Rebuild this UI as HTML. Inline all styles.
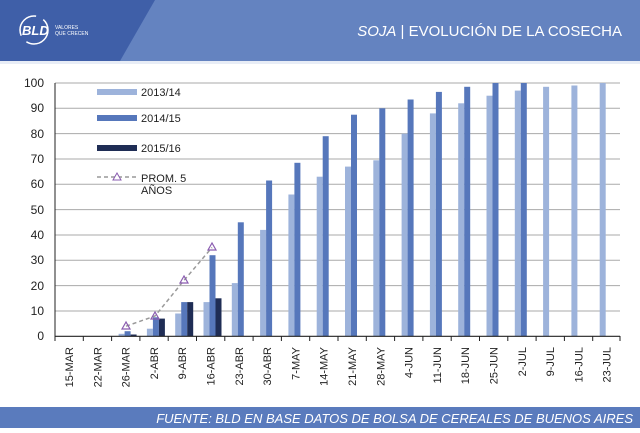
<!DOCTYPE html>
<html><head><meta charset="utf-8"><style>
body{margin:0;width:640px;height:428px;overflow:hidden;background:#fff;font-family:"Liberation Sans",sans-serif}
</style></head><body>
<svg width="640" height="428" xmlns="http://www.w3.org/2000/svg" font-family="Liberation Sans, sans-serif">
<rect x="0" y="0" width="640" height="61" fill="#6483c0"/>
<polygon points="0,0 155,0 120,61 0,61" fill="#3f5fa8"/>
<rect x="0" y="61" width="640" height="3" fill="#e8edf6"/>
<circle cx="34" cy="30" r="14" fill="none" stroke="#fff" stroke-width="1.5" stroke-dasharray="30 8"/>
<text x="22" y="35" font-size="13" font-weight="bold" font-style="italic" fill="#fff">BLD</text>
<text x="55" y="29" font-size="5" fill="#fff">VALORES</text>
<text x="55" y="35" font-size="5" fill="#fff">QUE CRECEN</text>
<text x="622" y="36" font-size="15" fill="#fff" text-anchor="end"><tspan font-style="italic">SOJA</tspan> | EVOLUCIÓN DE LA COSECHA</text>
<g stroke="#aaa" stroke-width="1">
<line x1="55" x2="620" y1="83" y2="83"/><line x1="55" x2="620" y1="108.3" y2="108.3"/><line x1="55" x2="620" y1="133.6" y2="133.6"/><line x1="55" x2="620" y1="159" y2="159"/><line x1="55" x2="620" y1="184.3" y2="184.3"/><line x1="55" x2="620" y1="209.6" y2="209.6"/><line x1="55" x2="620" y1="235" y2="235"/><line x1="55" x2="620" y1="260.3" y2="260.3"/><line x1="55" x2="620" y1="285.6" y2="285.6"/><line x1="55" x2="620" y1="311" y2="311"/>
</g>
<g font-size="12" fill="#222" text-anchor="end">
<text x="44" y="87">100</text><text x="44" y="112">90</text><text x="44" y="138">80</text><text x="44" y="163">70</text><text x="44" y="188">60</text><text x="44" y="214">50</text><text x="44" y="239">40</text><text x="44" y="264">30</text><text x="44" y="290">20</text><text x="44" y="315">10</text><text x="44" y="340">0</text>
</g>
<g fill="#9db3db">
<rect x="118.6" y="333.8" width="6" height="2.5"/>
<rect x="146.9" y="328.7" width="6" height="7.6"/>
<rect x="175.2" y="313.5" width="6" height="22.8"/>
<rect x="203.5" y="302.1" width="6" height="34.2"/>
<rect x="231.8" y="283.1" width="6" height="53.2"/>
<rect x="260.1" y="229.9" width="6" height="106.4"/>
<rect x="288.4" y="194.5" width="6" height="141.8"/>
<rect x="316.7" y="176.7" width="6" height="159.6"/>
<rect x="345" y="166.6" width="6" height="169.7"/>
<rect x="373.3" y="160.3" width="6" height="176"/>
<rect x="401.6" y="133.7" width="6" height="202.6"/>
<rect x="429.9" y="113.4" width="6" height="222.9"/>
<rect x="458.2" y="103.3" width="6" height="233"/>
<rect x="486.5" y="95.7" width="6" height="240.6"/>
<rect x="514.8" y="90.6" width="6" height="245.7"/>
<rect x="543.1" y="86.8" width="6" height="249.5"/>
<rect x="571.4" y="85.5" width="6" height="250.8"/>
<rect x="599.7" y="83" width="6" height="253.3"/>
</g>
<g fill="#5677bb">
<rect x="124.6" y="331.2" width="6" height="5.1"/>
<rect x="152.9" y="317.3" width="6" height="19"/>
<rect x="181.2" y="302.1" width="6" height="34.2"/>
<rect x="209.5" y="255.2" width="6" height="81.1"/>
<rect x="237.8" y="222.3" width="6" height="114"/>
<rect x="266.1" y="180.5" width="6" height="155.8"/>
<rect x="294.4" y="162.8" width="6" height="173.5"/>
<rect x="322.7" y="136.2" width="6" height="200.1"/>
<rect x="351" y="114.7" width="6" height="221.6"/>
<rect x="379.3" y="108.3" width="6" height="228"/>
<rect x="407.6" y="99.5" width="6" height="236.8"/>
<rect x="435.9" y="91.9" width="6" height="244.4"/>
<rect x="464.2" y="86.8" width="6" height="249.5"/>
<rect x="492.5" y="83" width="6" height="253.3"/>
<rect x="520.8" y="83" width="6" height="253.3"/>
</g>
<g fill="#1f2d55">
<rect x="130.6" y="334.5" width="6" height="1.8"/>
<rect x="158.9" y="318.6" width="6" height="17.7"/>
<rect x="187.2" y="302.1" width="6" height="34.2"/>
<rect x="215.5" y="298.3" width="6" height="38"/>
</g>
<line x1="55" x2="620" y1="336.3" y2="336.3" stroke="#222" stroke-width="1.2"/>
<line x1="55" x2="55" y1="83" y2="340" stroke="#222"/>
<g stroke="#222">
<line x1="55" x2="55" y1="336" y2="341"/><line x1="83.3" x2="83.3" y1="336" y2="341"/><line x1="111.6" x2="111.6" y1="336" y2="341"/><line x1="139.9" x2="139.9" y1="336" y2="341"/><line x1="168.2" x2="168.2" y1="336" y2="341"/><line x1="196.5" x2="196.5" y1="336" y2="341"/><line x1="224.8" x2="224.8" y1="336" y2="341"/><line x1="253.1" x2="253.1" y1="336" y2="341"/><line x1="281.4" x2="281.4" y1="336" y2="341"/><line x1="309.7" x2="309.7" y1="336" y2="341"/><line x1="338" x2="338" y1="336" y2="341"/><line x1="366.3" x2="366.3" y1="336" y2="341"/><line x1="394.6" x2="394.6" y1="336" y2="341"/><line x1="422.9" x2="422.9" y1="336" y2="341"/><line x1="451.2" x2="451.2" y1="336" y2="341"/><line x1="479.5" x2="479.5" y1="336" y2="341"/><line x1="507.8" x2="507.8" y1="336" y2="341"/><line x1="536.1" x2="536.1" y1="336" y2="341"/><line x1="564.4" x2="564.4" y1="336" y2="341"/><line x1="592.7" x2="592.7" y1="336" y2="341"/><line x1="620" x2="620" y1="336" y2="341"/>
</g>
<g font-size="11" fill="#222" text-anchor="end">
<text transform="translate(73,347) rotate(-90)">15-MAR</text>
<text transform="translate(101.3,347) rotate(-90)">22-MAR</text>
<text transform="translate(129.6,347) rotate(-90)">26-MAR</text>
<text transform="translate(157.9,347) rotate(-90)">2-ABR</text>
<text transform="translate(186.2,347) rotate(-90)">9-ABR</text>
<text transform="translate(214.5,347) rotate(-90)">16-ABR</text>
<text transform="translate(242.8,347) rotate(-90)">23-ABR</text>
<text transform="translate(271.1,347) rotate(-90)">30-ABR</text>
<text transform="translate(299.4,347) rotate(-90)">7-MAY</text>
<text transform="translate(327.7,347) rotate(-90)">14-MAY</text>
<text transform="translate(356,347) rotate(-90)">21-MAY</text>
<text transform="translate(384.3,347) rotate(-90)">28-MAY</text>
<text transform="translate(412.6,347) rotate(-90)">4-JUN</text>
<text transform="translate(440.9,347) rotate(-90)">11-JUN</text>
<text transform="translate(469.2,347) rotate(-90)">18-JUN</text>
<text transform="translate(497.5,347) rotate(-90)">25-JUN</text>
<text transform="translate(525.8,347) rotate(-90)">2-JUL</text>
<text transform="translate(554.1,347) rotate(-90)">9-JUL</text>
<text transform="translate(582.4,347) rotate(-90)">16-JUL</text>
<text transform="translate(610.7,347) rotate(-90)">23-JUL</text>
</g>
<polyline points="126,326.2 155,316 184,280.4 212,247.5" fill="none" stroke="#999" stroke-width="1.5" stroke-dasharray="4 3"/>
<g fill="none" stroke="#8a5cb0" stroke-width="1.2">
<polygon points="126,322 122,329 130,329"/><polygon points="155,312 151,319 159,319"/><polygon points="184,276 180,283 188,283"/><polygon points="212,243 208,250 216,250"/>
</g>
<rect x="97" y="89" width="40" height="6" fill="#9db3db"/>
<rect x="97" y="115" width="40" height="6" fill="#5677bb"/>
<rect x="97" y="145" width="40" height="6" fill="#1f2d55"/>
<line x1="97" x2="137" y1="177" y2="177" stroke="#999" stroke-width="1.5" stroke-dasharray="4 3"/>
<polygon points="117,173 113,180 121,180" fill="#fff" stroke="#8a5cb0"/>
<g font-size="11" fill="#222">
<text x="141" y="96">2013/14</text><text x="141" y="122">2014/15</text><text x="141" y="152">2015/16</text><text x="141" y="182">PROM. 5</text><text x="141" y="194">AÑOS</text>
</g>
<rect x="0" y="407" width="640" height="21" fill="#5a7bbd"/>
<text x="633" y="423" font-size="13" font-style="italic" fill="#fff" text-anchor="end">FUENTE: BLD EN BASE DATOS DE BOLSA DE CEREALES DE BUENOS AIRES</text>
</svg>
</body></html>
